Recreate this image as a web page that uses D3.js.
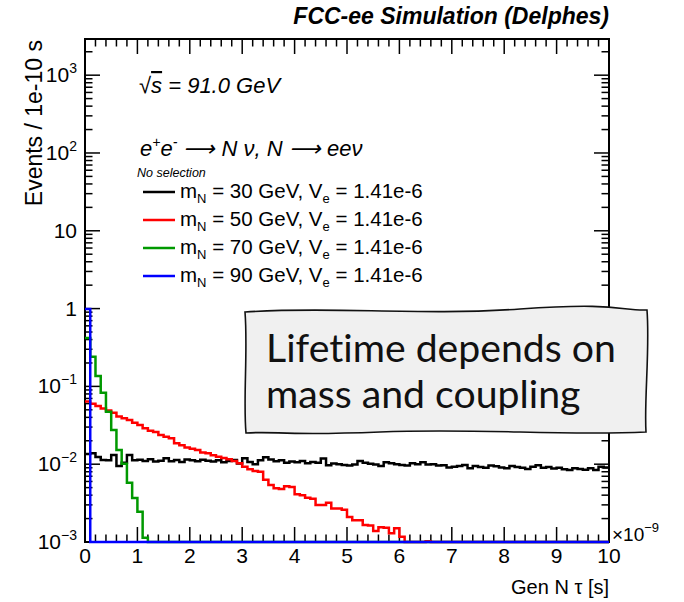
<!DOCTYPE html>
<html>
<head>
<meta charset="utf-8">
<script src="https://cdn.jsdelivr.net/npm/d3@7"></script>
<style>
  body { margin: 0; background: #fff; }
  svg text { font-family: "Liberation Sans", Arial, sans-serif; }
</style>
</head>
<body>
<div id="chart"></div>
<script>
// histogram: 100 bins of 1e-10 s from 0 to 1e-9 s (axis in units of 1e-9)
var nBins = 100, binWidth = 0.1;

// m_N = 30 GeV
var blackVals = [
  0.0135, 0.0138, 0.0124, 0.0113, 0.0112, 0.0131, 0.0095, 0.0104, 0.0131, 0.0112,
  0.0114, 0.0110, 0.0116, 0.0108, 0.0111, 0.0119, 0.0109, 0.0113, 0.0107, 0.0115,
  0.0112, 0.0109, 0.0114, 0.0111, 0.0108, 0.0112, 0.0106, 0.0110, 0.0113, 0.0102,
  0.0119, 0.0107, 0.0100, 0.0112, 0.0123, 0.0115, 0.0109, 0.0112, 0.0104, 0.0108,
  0.0106, 0.0110, 0.0103, 0.0107, 0.0104, 0.0118, 0.0097, 0.0102, 0.0100, 0.0098,
  0.0096, 0.0099, 0.0110, 0.0104, 0.0101, 0.0099, 0.0095, 0.0106, 0.0103, 0.0100,
  0.0098, 0.0096, 0.0103, 0.0100, 0.0106, 0.0099, 0.0100, 0.0096, 0.0097, 0.0091,
  0.0093, 0.0095, 0.0098, 0.0089, 0.0095, 0.0092, 0.0090, 0.0096, 0.0094, 0.0091,
  0.0089, 0.0095, 0.0092, 0.0090, 0.0087, 0.0093, 0.0097, 0.0090, 0.0092, 0.0088,
  0.0090, 0.0086, 0.0084, 0.0089, 0.0087, 0.0085, 0.0089, 0.0084, 0.0093, 0.0091
];
// m_N = 50 GeV
var redVals = [
  0.064, 0.060, 0.056, 0.052, 0.049, 0.046, 0.041, 0.039, 0.037, 0.034,
  0.032, 0.029, 0.027, 0.026, 0.0237, 0.0225, 0.0215, 0.0186, 0.0175, 0.0164,
  0.0158, 0.0152, 0.0141, 0.0138, 0.0130, 0.0125, 0.0120, 0.0116, 0.0110, 0.0103,
  0.0093, 0.0086, 0.0082, 0.0080, 0.0063, 0.0054, 0.0049, 0.0048, 0.0052, 0.0051,
  0.0041, 0.0040, 0.0037, 0.0036, 0.0030, 0.0030, 0.0032, 0.0027, 0.0027, 0.0026,
  0.0021, 0.0019, 0.0019, 0.00165, 0.00163, 0.00138, 0.00155, 0.00153, 0.0013, 0.0015,
  0.00117, 0.0009, 0.0008, 0.0007, 0.0007, 0.00102, 0.0006, 0.0005, 0.0005, 0.0004,
  0.0004, 0.0003, 0.0003, 0.0003, 0.0002, 0.0002, 0.0002, 0.0002, 0.0001, 0.0001
];
// m_N = 70 GeV
var greenVals = [
  0.42, 0.241, 0.136, 0.083, 0.0473, 0.0275, 0.0152, 0.0101, 0.00578, 0.00368,
  0.00245, 0.00113, 0.0008, 0.0005, 0.0003, 0.0002, 0.0001
];
// m_N = 90 GeV (all in the first bin, the rest is empty)
var blueVals = [0.99, 0.0004, 0.0001];

var seriesNames = ["30", "50", "70", "90"];
var seriesColors = ["#000000", "#ff0000", "#009900", "#0000ff"];
var seriesVals = [blackVals, redVals, greenVals, blueVals];

var xTicks = [0, 1, 2, 3, 4, 5, 6, 7, 8, 9, 10];
var yDecades = [-3, -2, -1, 0, 1, 2, 3];

var W = 684, H = 602;
var margin = { top: 39, left: 85, right: 75, bottom: 60 };
var width = W - margin.left - margin.right,
    height = H - margin.top - margin.bottom;

var svg = d3.select("#chart").append("svg")
  .attr("width", W).attr("height", H);

var x = d3.scaleLinear().domain([0, 10]).range([margin.left, margin.left + width]);
var y = d3.scaleLog().domain([1e-3, Math.pow(10, 3.465)]).range([margin.top + height, margin.top]);

var x0 = x(0), x1 = x(10), yb = y(1e-3), yt = margin.top;

// frame
svg.append("rect")
  .attr("x", x0).attr("y", yt)
  .attr("width", x1 - x0).attr("height", yb - yt)
  .attr("fill", "none").attr("stroke", "#000").attr("stroke-width", 2);

// x ticks, bottom and top, pointing inward
var xMinor = d3.range(0, 50).map(function(i) { return i * 0.2; }).filter(function(v, i) { return i % 5 != 0; });
var g = svg.append("g").attr("stroke", "#000").attr("stroke-width", 1.5);
xTicks.forEach(function(t) {
  g.append("line").attr("x1", x(t)).attr("x2", x(t)).attr("y1", yb).attr("y2", yb - 15);
  g.append("line").attr("x1", x(t)).attr("x2", x(t)).attr("y1", yt).attr("y2", yt + 15);
});
xMinor.forEach(function(t) {
  g.append("line").attr("x1", x(t)).attr("x2", x(t)).attr("y1", yb).attr("y2", yb - 7.5);
  g.append("line").attr("x1", x(t)).attr("x2", x(t)).attr("y1", yt).attr("y2", yt + 7.5);
});

// y ticks (log), left and right
var yMax = y.domain()[1];
yDecades.forEach(function(d) {
  var v = Math.pow(10, d);
  g.append("line").attr("x1", x0).attr("x2", x0 + 15).attr("y1", y(v)).attr("y2", y(v));
  g.append("line").attr("x1", x1).attr("x2", x1 - 15).attr("y1", y(v)).attr("y2", y(v));
  for (var k = 2; k <= 9; k++) {
    var m = k * v;
    if (m > yMax) break;
    g.append("line").attr("x1", x0).attr("x2", x0 + 7.5).attr("y1", y(m)).attr("y2", y(m));
    g.append("line").attr("x1", x1).attr("x2", x1 - 7.5).attr("y1", y(m)).attr("y2", y(m));
  }
});

// tick labels
xTicks.forEach(function(t) {
  svg.append("text").attr("x", x(t)).attr("y", 563)
    .attr("text-anchor", "middle").attr("font-size", 21).text(t);
});
yDecades.forEach(function(d) {
  var tx = svg.append("text").attr("x", 77).attr("y", y(Math.pow(10, d)) + 7)
    .attr("text-anchor", "end").attr("font-size", 21);
  if (d == 0) tx.text("1");
  else if (d == 1) tx.text("10");
  else {
    tx.append("tspan").text("10");
    tx.append("tspan").attr("dy", -9).attr("font-size", 14).text(d < 0 ? "\u2212" + (-d) : d);
  }
});

// x10^-9 exponent
var ex = svg.append("text").attr("x", 612).attr("y", 541).attr("font-size", 19);
ex.append("tspan").text("\u00d710");
ex.append("tspan").attr("dy", -9).attr("font-size", 13).text("\u22129");

// axis titles
svg.append("text").attr("x", x1).attr("y", 594)
  .attr("text-anchor", "end").attr("font-size", 20).text("Gen N \u03c4 [s]");
svg.append("text")
  .attr("transform", "translate(42," + (yt + 1) + ") rotate(-90)")
  .attr("text-anchor", "end").attr("font-size", 23).text("Events / 1e-10 s");

svg.append("text").attr("x", x1).attr("y", 24)
  .attr("text-anchor", "end").attr("font-size", 23)
  .attr("font-weight", "bold").attr("font-style", "italic")
  .text("FCC-ee Simulation (Delphes)");

// histograms
svg.append("clipPath").attr("id", "clip").append("rect")
  .attr("x", x0 - 1).attr("y", yt).attr("width", x1 - x0 + 2).attr("height", yb - yt + 2);

function stepPath(vals) {
  var p = "";
  for (var i = 0; i < nBins; i++) {
    var v = vals[i] || 0;
    var yy = v > 1e-3 ? y(v) : yb;
    if (i == 0) p += "M" + x(0) + "," + yy;
    else p += "V" + yy;
    p += "H" + x((i + 1) * binWidth);
  }
  return p;
}

svg.append("g").attr("clip-path", "url(#clip)")
  .selectAll("path").data(seriesVals).enter().append("path")
  .attr("d", stepPath)
  .attr("fill", "none")
  .attr("stroke", function(d, i) { return seriesColors[i]; })
  .attr("stroke-width", 2.5);

// labels inside the frame
var it = svg.append("text").attr("x", 139).attr("y", 93).attr("font-size", 22).attr("font-style", "italic");
it.append("tspan").text("\u221a");
it.append("tspan").style("text-decoration", "overline").text("s");
it.append("tspan").text(" = 91.0 GeV");

var pr = svg.append("text").attr("x", 140).attr("y", 156).attr("font-size", 22).attr("font-style", "italic");
pr.append("tspan").text("e");
pr.append("tspan").attr("dy", -9).attr("font-size", 14).text("+");
pr.append("tspan").attr("dy", 9).text("e");
pr.append("tspan").attr("dy", -9).attr("font-size", 14).text("-");
pr.append("tspan").attr("dy", 9).text(" \u27f6 N \u03bd, N \u27f6 ee\u03bd");

svg.append("text").attr("x", 137).attr("y", 177).attr("font-size", 12.5)
  .attr("font-style", "italic").text("No selection");

// legend
seriesNames.forEach(function(n, i) {
  var ly = 192 + i * 28;
  svg.append("line").attr("x1", 143).attr("x2", 175).attr("y1", ly).attr("y2", ly)
    .attr("stroke", seriesColors[i]).attr("stroke-width", 2.5);
  var t = svg.append("text").attr("x", 180).attr("y", ly + 6).attr("font-size", 20.5);
  t.append("tspan").text("m");
  t.append("tspan").attr("dy", 5).attr("font-size", 13).text("N");
  t.append("tspan").attr("dy", -5).text(" = " + n + " GeV, V");
  t.append("tspan").attr("dy", 5).attr("font-size", 13).text("e");
  t.append("tspan").attr("dy", -5).text(" = 1.41e-6");
});

// callout box
svg.append("path")
  .attr("d", "M245,312 C330,306 420,316 520,309 S620,311 647,310 " +
             "C650,350 644,400 646,432 C560,436 480,428 380,432 S280,431 246,433 " +
             "C243,400 248,350 245,312 Z")
  .attr("fill", "#f0f0f0").attr("stroke", "#111").attr("stroke-width", 1.6);

var boxLines = ["Lifetime depends on", "mass and coupling"];
var bt = svg.selectAll(".boxtxt").data(boxLines).enter().append("text")
  .attr("class", "boxtxt")
  .attr("x", 266).attr("y", function(d, i) { return 362 + i * 46; })
  .style("font-family", "Lato, 'Open Sans', sans-serif")
  .style("font-variant-ligatures", "none")
  .attr("font-size", 40).attr("fill", "#111")
  .text(function(d) { return d; });
var w0 = bt.node().getComputedTextLength();
bt.attr("font-size", 40 * 350 / w0);
</script>
</body>
</html>
